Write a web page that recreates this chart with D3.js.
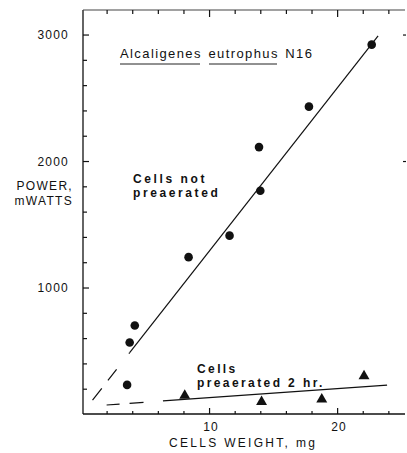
<!DOCTYPE html>
<html>
<head>
<meta charset="utf-8">
<script src="https://cdn.jsdelivr.net/npm/d3@7"></script>
<style>
  body { margin: 0; background: #fff; }
  svg { display: block; }
  text { font-family: "Liberation Sans", Arial, sans-serif; fill: #111; }
  .axis path, .axis line { stroke: #111; stroke-width: 1.2; }
</style>
</head>
<body>
<svg id="chart" width="407" height="453"></svg>
<script>
// data
var notPreX = [22.7, 17.8, 13.9, 14.0, 11.6, 8.4, 4.2, 3.8, 3.6];
var notPreY = [2920, 2430, 2110, 1765, 1410, 1240, 700, 565, 230];
var preX = [8.1, 14.1, 18.8, 22.1];
var preY = [145, 97, 116, 300];

// fitted lines (end points as drawn)
var fitNotPreSolidX = [3.8, 23.2], fitNotPreSolidY = [485, 2990];
var fitNotPreDashX = [0.9, 3.8], fitNotPreDashY = [110, 485];
var fitPreSolidX = [6.4, 23.9], fitPreSolidY = [103, 229];
var fitPreDashX = [2.0, 6.4], fitPreDashY = [71, 103];

var xMinor = d3.range(2, 25, 2);
var xLabels = [10, 20];
var yMinor = d3.range(200, 3001, 200);
var yLabels = [1000, 2000, 3000];

var svg = d3.select("#chart");

var x = d3.scaleLinear().domain([0.156, 25.3]).range([83, 405]);
var y = d3.scaleLinear().domain([0, 3194]).range([414, 10]);

function isMajorX(d) { return xLabels.indexOf(d) >= 0; }
function isMajorY(d) { return yLabels.indexOf(d) >= 0; }

// frame lines
svg.append("line").attr("x1", 83).attr("x2", 83).attr("y1", 10).attr("y2", 414)
  .attr("stroke", "#111").attr("stroke-width", 1.3);
svg.append("line").attr("x1", 83).attr("x2", 405).attr("y1", 414).attr("y2", 414)
  .attr("stroke", "#111").attr("stroke-width", 1.3);
svg.append("line").attr("x1", 83).attr("x2", 405).attr("y1", 10).attr("y2", 10)
  .attr("stroke", "#444").attr("stroke-width", 1.1);

// bottom ticks (pointing up)
var bottomAxis = svg.append("g").attr("class", "axis").attr("transform", "translate(0,414)")
  .call(d3.axisTop(x).tickValues(xMinor).tickSize(4).tickFormat(""));
bottomAxis.select(".domain").remove();
bottomAxis.selectAll(".tick line").attr("y2", function(d) { return isMajorX(d) ? -6 : -3; });

// top ticks (pointing down)
var topAxis = svg.append("g").attr("class", "axis").attr("transform", "translate(0,10)")
  .call(d3.axisBottom(x).tickValues(xMinor).tickSize(4).tickFormat(""));
topAxis.select(".domain").remove();
topAxis.selectAll(".tick line").attr("y2", function(d) { return isMajorX(d) ? 7 : 4; });

// left ticks (pointing right)
var leftAxis = svg.append("g").attr("class", "axis").attr("transform", "translate(83,0)")
  .call(d3.axisRight(y).tickValues(yMinor).tickSize(4).tickFormat(""));
leftAxis.select(".domain").remove();
leftAxis.selectAll(".tick line").attr("x2", function(d) { return isMajorY(d) ? 6 : 4; });

// right ticks (pointing left, only majors visible)
var rightAxis = svg.append("g").attr("class", "axis").attr("transform", "translate(406,0)")
  .call(d3.axisLeft(y).tickValues([2000, 3000]).tickSize(3).tickFormat(""));
rightAxis.select(".domain").remove();

// tick labels
svg.selectAll(".ylab").data(yLabels).enter().append("text")
  .attr("class", "ylab")
  .attr("x", 69).attr("y", function(d) { return y(d) + 4.5; })
  .attr("text-anchor", "end")
  .attr("font-size", 12).attr("letter-spacing", 1.2)
  .text(function(d) { return d; });

svg.selectAll(".xlab").data(xLabels).enter().append("text")
  .attr("class", "xlab")
  .attr("x", function(d) { return x(d) + 2; }).attr("y", 431)
  .attr("text-anchor", "middle")
  .attr("font-size", 12).attr("letter-spacing", 1.2)
  .text(function(d) { return d; });

// axis titles
svg.append("text").attr("x", 73).attr("y", 190).attr("text-anchor", "end")
  .attr("font-size", 12).attr("letter-spacing", 1.3).text("POWER,");
svg.append("text").attr("x", 73).attr("y", 205).attr("text-anchor", "end")
  .attr("font-size", 12).attr("letter-spacing", 1.3).text("mWATTS");
svg.append("text").attr("x", 169).attr("y", 447)
  .attr("font-size", 12).attr("letter-spacing", 2.3).text("CELLS WEIGHT, mg");

// fitted lines
var line = d3.line().x(function(d) { return x(d[0]); }).y(function(d) { return y(d[1]); });
function drawFit(xs, ys, dash) {
  svg.append("path")
    .datum(d3.zip(xs, ys))
    .attr("d", line)
    .attr("fill", "none").attr("stroke", "#111").attr("stroke-width", 1.2)
    .attr("stroke-dasharray", dash);
}
drawFit(fitNotPreSolidX, fitNotPreSolidY, null);
drawFit(fitNotPreDashX, fitNotPreDashY, "15,10,14,20");
drawFit(fitPreSolidX, fitPreSolidY, null);
drawFit(fitPreDashX, fitPreDashY, "13,10,14,20");

// circles: cells not preaerated
svg.selectAll(".dot").data(d3.zip(notPreX, notPreY)).enter().append("circle")
  .attr("class", "dot")
  .attr("cx", function(d) { return x(d[0]); })
  .attr("cy", function(d) { return y(d[1]); })
  .attr("r", 4.3).attr("fill", "#111");

// triangles: cells preaerated
var tri = d3.symbol().type(d3.symbolTriangle).size(52);
svg.selectAll(".tri").data(d3.zip(preX, preY)).enter().append("path")
  .attr("class", "tri")
  .attr("transform", function(d) { return "translate(" + x(d[0]) + "," + y(d[1]) + ")"; })
  .attr("d", tri).attr("fill", "#111");

// annotations
svg.append("text").attr("x", 120).attr("y", 58)
  .attr("font-size", 13).attr("letter-spacing", 1.4).attr("word-spacing", 1.5)
  .text("Alcaligenes eutrophus N16");
svg.append("line").attr("x1", 120).attr("x2", 200).attr("y1", 64).attr("y2", 64)
  .attr("stroke", "#222").attr("stroke-width", 1);
svg.append("line").attr("x1", 209).attr("x2", 277).attr("y1", 64).attr("y2", 64)
  .attr("stroke", "#222").attr("stroke-width", 1);

svg.append("text").attr("x", 133).attr("y", 183)
  .attr("font-size", 12).attr("font-weight", "bold").attr("letter-spacing", 2.6)
  .text("Cells not");
svg.append("text").attr("x", 133).attr("y", 197)
  .attr("font-size", 12).attr("font-weight", "bold").attr("letter-spacing", 2.6)
  .text("preaerated");

svg.append("text").attr("x", 197).attr("y", 373)
  .attr("font-size", 12).attr("font-weight", "bold").attr("letter-spacing", 2.4)
  .text("Cells");
svg.append("text").attr("x", 197).attr("y", 387)
  .attr("font-size", 12).attr("font-weight", "bold").attr("letter-spacing", 2.4)
  .text("preaerated 2 hr.");
</script>
</body>
</html>
